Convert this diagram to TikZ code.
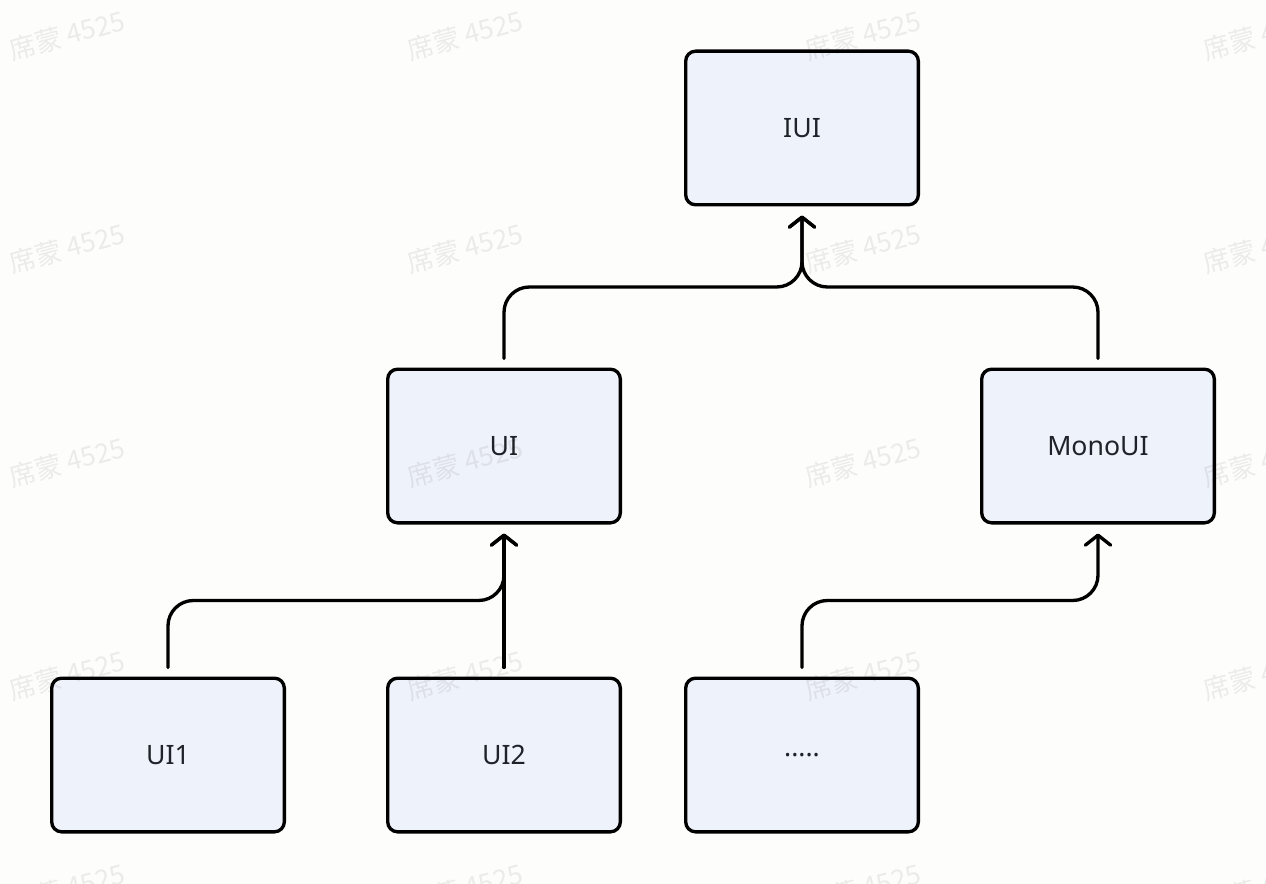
\documentclass[tikz,border=0pt]{standalone}
\usepackage{fontspec}
\setmainfont{Noto Sans}
\newfontfamily\cjkwm{Noto Sans CJK SC}
\usetikzlibrary{arrows.meta,calc}
\definecolor{bg}{HTML}{FDFDFC}
\definecolor{boxfill}{HTML}{EEF2FB}
\definecolor{txt}{HTML}{1F2329}
\begin{document}
\begin{tikzpicture}[x=0.75pt,y=-0.75pt,
  box/.style={draw=black, line width=2.5pt, rounded corners=7.5pt, fill=boxfill,
    minimum width=174.5pt, minimum height=115.25pt, inner sep=0pt, text=txt,
    font=\fontsize{20}{24}\selectfont},
  link/.style={draw=black, line width=2.5pt, line cap=round, line join=round,
    rounded corners=19pt, shorten <=6.75pt, shorten >=6.75pt,
    -{Straight Barb[length=7.5pt,width=19pt,line cap=round,line join=round]}},
  wm/.style={text=black, opacity=0.07, rotate=15, inner sep=0pt,
    font=\cjkwm\fontsize{20}{22}\selectfont}]
\fill[bg] (0,0) rectangle (1266,884);
\useasboundingbox (0,0) rectangle (1266,884);

\node[box] (iui)  at (802,128) {IUI};
\node[box] (ui)   at (504,446) {UI};
\node[box] (mono) at (1098,446) {MonoUI};
\node[box] (ui1)  at (168,755) {UI1};
\node[box] (ui2)  at (504,755) {UI2};
\node[box] (dots) at (802,755) {.....};

\draw[link] (ui.north) |- ($(ui.north)!.5!(iui.south)$) -| (iui.south);
\draw[link] (mono.north) |- ($(mono.north)!.5!(iui.south)$) -| (iui.south);
\draw[link] (ui1.north) |- ($(ui1.north)!.5!(ui.south)$) -| (ui.south);
\draw[link] (ui2.north) -- (ui.south);
\draw[link] (dots.north) |- ($(dots.north)!.5!(mono.south)$) -| (mono.south);

\foreach \x in {67,465,863,1261}
  \foreach \y in {35,248,462,675,888}
    \node[wm] (wm-\x-\y) at (\x,\y) {席蒙 4525};
\end{tikzpicture}
\end{document}
